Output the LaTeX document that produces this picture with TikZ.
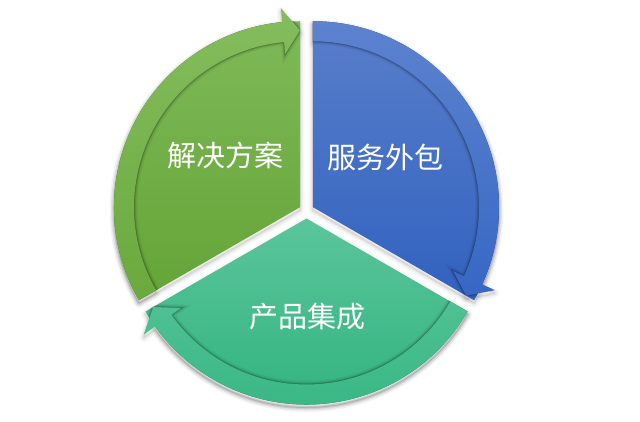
\documentclass[tikz,border=0pt]{standalone}
\usepackage{fontspec}
\newfontfamily\cjk{Noto Sans CJK SC}
\definecolor{glT}{HTML}{80BA5A}
\definecolor{glB}{HTML}{64A436}
\definecolor{glaT}{HTML}{84BD5E}
\definecolor{glaB}{HTML}{6AA93C}
\definecolor{blT}{HTML}{5B80CC}
\definecolor{blB}{HTML}{2F60BE}
\definecolor{blaT}{HTML}{5F84D0}
\definecolor{blaB}{HTML}{3465C3}
\definecolor{bgT}{HTML}{5CC69C}
\definecolor{bgB}{HTML}{30B27E}
\definecolor{bgaT}{HTML}{62C9A0}
\definecolor{bgaB}{HTML}{37B683}
\def\wedgepath#1#2{(0,0) -- (#1:186) arc[start angle=#1, end angle=#2, radius=186] -- cycle}
\def\arrowpath#1#2#3{(#1:186) arc[start angle=#1, end angle=#2, radius=186] -- (#2:200) -- (#3:177) -- (#2:154) -- (#2:166) arc[start angle=#2, end angle=#1, radius=166] -- cycle}
\tikzset{
  lbl/.style={text=white, font=\cjk\fontsize{29}{32}\selectfont, inner sep=0pt},
}
\newcommand\segment[8]{%
  % #1 shift angle, #2 wedge start, #3 wedge end, #4 head back, #5 tip, #6 colour prefix, #7 rect lower-left, #8 rect upper-right
  \begin{scope}[shift={(#1:7.5)}]
    \begin{scope}
      \clip \wedgepath{#2}{#3};
      \shade[top color=#6T, bottom color=#6B] #7 rectangle #8;
      \draw[black, opacity=0.05, line width=7pt] \arrowpath{#2}{#4}{#5};
      \draw[black, opacity=0.08, line width=4pt] \arrowpath{#2}{#4}{#5};
      \draw[black, opacity=0.14, line width=2.2pt] \arrowpath{#2}{#4}{#5};
      \draw[black, opacity=0.12, line width=1pt] \arrowpath{#2}{#4}{#5};
    \end{scope}
    \begin{scope}
      \clip \arrowpath{#2}{#4}{#5};
      \shade[top color=#6aT, bottom color=#6aB] #7 rectangle #8;
    \end{scope}
  \end{scope}}
\newcommand\segshadow[5]{%
  \begin{scope}[shift={(#1:7.5)}, yshift=-3pt]
    \foreach \w/\o in {9/0.025,6/0.035,3/0.05,1/0.06}{
      \draw[black, opacity=\o, line width=\w pt, line join=round] \wedgepath{#2}{#3};
      \draw[black, opacity=\o, line width=\w pt, line join=round] \arrowpath{#2}{#4}{#5};
    }
  \end{scope}}
\begin{document}
\begin{tikzpicture}[x=1pt,y=1pt]
  \useasboundingbox (-306.5,-211) rectangle (333.5,211);
  \fill[white] (-306.5,-211) rectangle (333.5,211);
  % soft drop shadows
  \segshadow{150}{210}{90}{95.5}{90}
  \segshadow{30}{90}{-30}{-24.5}{-30}
  \segshadow{270}{330}{210}{215.5}{210}
  % segments
  \segment{150}{210}{90}{95.5}{90}{gl}{(-210,-100)}{(10,200)}
  \segment{30}{90}{-30}{-24.5}{-30}{bl}{(-10,-110)}{(210,200)}
  \segment{270}{330}{210}{215.5}{210}{bg}{(-210,-200)}{(210,5)}
  % labels
  \node[lbl] (l1) at (-80.5,56) {解决方案};
  \node[lbl] (l2) at (79.5,54) {服务外包};
  \node[lbl] (l3) at (1.5,-106) {产品集成};
\end{tikzpicture}
\end{document}
